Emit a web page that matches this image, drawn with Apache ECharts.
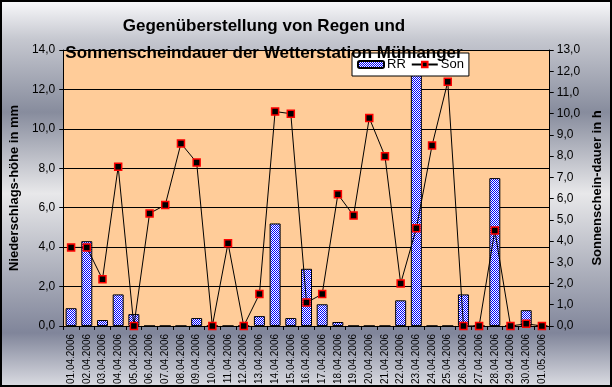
<!DOCTYPE html>
<html>
<head>
<meta charset="utf-8">
<script src="https://cdn.jsdelivr.net/npm/echarts@6/dist/echarts.min.js"></script>
<style>
html,body{margin:0;padding:0;background:#fff;}
#c{width:612px;height:387px;}
</style>
</head>
<body>
<div id="c"></div>
<script>
const categories = ["01.04.2006","02.04.2006","03.04.2006","04.04.2006","05.04.2006","06.04.2006","07.04.2006","08.04.2006","09.04.2006","10.04.2006","11.04.2006","12.04.2006","13.04.2006","14.04.2006","15.04.2006","16.04.2006","17.04.2006","18.04.2006","19.04.2006","20.04.2006","21.04.2006","22.04.2006","23.04.2006","24.04.2006","25.04.2006","26.04.2006","27.04.2006","28.04.2006","29.04.2006","30.04.2006","01.05.2006"];
const rainMM = [0.9,4.3,0.3,1.6,0.6,0,0,0,0.4,0,0,0,0.5,5.2,0.4,2.9,1.1,0.2,0,0,0,1.3,13.8,0,0,1.6,0,7.5,0,0.8,0];
const sunHours = [3.7,3.7,2.2,7.5,0,5.3,5.7,8.6,7.7,0,3.9,0,1.5,10.1,10.0,1.1,1.5,6.2,5.2,9.8,8.0,2.0,4.6,8.5,11.5,0,0,4.5,0,0.1,0];
const titleLines = ["Gegenüberstellung von Regen und","Sonnenscheindauer der Wetterstation Mühlanger"];
const leftAxisName = "Niederschlags-höhe in mm";
const rightAxisName = "Sonnenschein-dauer in h";

const pc = document.createElement('canvas');
pc.width = 2; pc.height = 2;
const pctx = pc.getContext('2d');
pctx.fillStyle = '#ffffff'; pctx.fillRect(0,0,2,2);
pctx.fillStyle = '#0000ff'; pctx.fillRect(0,0,1,1); pctx.fillRect(1,1,1,1);
const pattern = {image: pc, repeat: 'repeat'};

const fmt = v => v.toFixed(1).replace('.', ',');
const chart = echarts.init(document.getElementById('c'), null, {renderer:'canvas'});
chart.setOption({
  animation: false,
  backgroundColor: {
    type: 'linear', x: 0, y: 0, x2: 0, y2: 1,
    colorStops: [
      {offset: 0, color: '#fafafc'},
      {offset: 0.1, color: '#c6c8d0'},
      {offset: 0.29, color: '#878c9d'},
      {offset: 0.5, color: '#e8e8ea'},
      {offset: 0.7, color: '#adb0bc'},
      {offset: 0.86, color: '#80859a'},
      {offset: 1, color: '#dcdde3'}
    ]
  },
  title: {
    text: titleLines.join('\n'),
    left: 259, top: 8, textAlign: 'center',
    textStyle: {fontFamily: 'Liberation Sans, Arial', fontWeight: 'bold', fontSize: 17, lineHeight: 27, color: '#000'}
  },
  legend: {
    data: ['RR', 'Son'],
    left: 352, top: 53,
    backgroundColor: '#fff', borderColor: '#000', borderWidth: 1,
    padding: [5, 5, 5, 5], itemGap: 5, itemWidth: 26, itemHeight: 7,
    textStyle: {fontFamily: 'Liberation Sans, Arial', fontSize: 13, color: '#000', padding: [0,0,0,-2]}
  },
  grid: {left: 50, right: 50, top: 50, bottom: 61, show: true, backgroundColor: '#ffcc99', borderWidth: 0},
  xAxis: {
    type: 'category', data: categories, boundaryGap: true,
    axisLine: {lineStyle: {color: '#000', width: 1}},
    axisTick: {show: true, length: 4, lineStyle: {color: '#000'}},
    axisLabel: {interval: 0, rotate: 90, fontFamily: 'Liberation Sans Narrow, Liberation Sans, Arial', fontSize: 10, color: '#000', margin: 8}
  },
  yAxis: [{
    type: 'value', min: 0, max: 14, interval: 2,
    name: leftAxisName, nameLocation: 'middle', nameRotate: 90, nameGap: 28,
    nameTextStyle: {fontFamily: 'Liberation Sans, Arial', fontWeight: 'bold', fontSize: 13, color: '#000'},
    axisLine: {show: true, lineStyle: {color: '#000'}},
    axisTick: {show: true, length: 4, lineStyle: {color: '#000'}},
    axisLabel: {formatter: fmt, fontFamily: 'Liberation Sans, Arial', fontSize: 12, color: '#000', margin: 8},
    splitLine: {show: true, lineStyle: {color: '#000', width: 1}}
  }, {
    type: 'value', min: 0, max: 13, interval: 1,
    name: rightAxisName, nameLocation: 'middle', nameRotate: 90, nameGap: 27,
    nameTextStyle: {fontFamily: 'Liberation Sans, Arial', fontWeight: 'bold', fontSize: 13, color: '#000'},
    axisLine: {show: true, lineStyle: {color: '#000'}},
    axisTick: {show: true, length: 4, lineStyle: {color: '#000'}},
    axisLabel: {formatter: fmt, fontFamily: 'Liberation Sans, Arial', fontSize: 12, color: '#000', margin: 7},
    splitLine: {show: false}
  }],
  series: [{
    name: 'RR', type: 'bar', data: rainMM, yAxisIndex: 0, barWidth: 11,
    itemStyle: {color: pattern, borderColor: '#000', borderWidth: 1}
  }, {
    name: 'Son', type: 'line', data: sunHours, yAxisIndex: 1,
    symbol: 'rect', symbolSize: 7, showAllSymbol: true,
    lineStyle: {color: '#000', width: 1},
    itemStyle: {color: '#000', borderColor: '#ff0000', borderWidth: 1.5}
  }],
  graphic: [{
    type: 'rect', z: 100, silent: true,
    shape: {x: 1, y: 1, width: 610, height: 385},
    style: {fill: 'none', stroke: '#000', lineWidth: 2}
  }]
});
</script>
</body>
</html>
